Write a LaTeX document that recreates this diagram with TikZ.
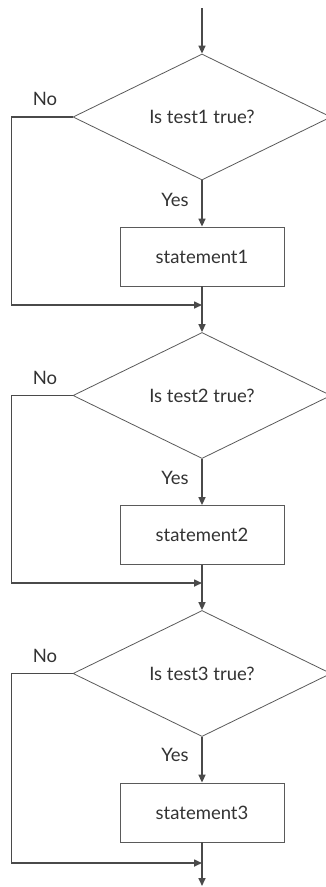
\documentclass[tikz,border=0pt]{standalone}
\usepackage{fontspec}
\setmainfont{Lato}
\usetikzlibrary{shapes.geometric,arrows.meta}
\definecolor{linec}{HTML}{4A4A4A}
\definecolor{shapec}{HTML}{5A5A5A}
\definecolor{textc}{HTML}{333333}
\begin{document}
\begin{tikzpicture}[x=1pt,y=-1pt,
  conn/.style={draw=linec, line width=1.6pt},
  arr/.style={conn,-{Triangle[length=8pt,width=7pt]}},
  decision/.style={diamond, draw=shapec, line width=0.8pt, minimum width=258pt, minimum height=126pt, inner sep=0pt, aspect=2, text=textc, font=\fontsize{18.5}{22}\selectfont},
  stmt/.style={rectangle, draw=shapec, line width=0.8pt, minimum width=164pt, minimum height=59pt, inner sep=0pt, text=textc, font=\fontsize{18.5}{22}\selectfont},
  lbl/.style={inner sep=0pt, text=textc, font=\fontsize{18.5}{22}\selectfont}]
\useasboundingbox (0,0) rectangle (326,887);
\clip (0,0) rectangle (326,887);
\fill[white] (0,0) rectangle (326,887);

\coordinate (start) at (202,8);
\node[decision] (d1) at (202,117) {Is test1 true?};
\node[stmt] (b1) at (202,256.5) {statement1};
\coordinate (m1) at (202,305);
\node[decision] (d2) at (202,395.5) {Is test2 true?};
\node[stmt] (b2) at (202,535) {statement2};
\coordinate (m2) at (202,583);
\node[decision] (d3) at (202,673.5) {Is test3 true?};
\node[stmt] (b3) at (202,812.5) {statement3};
\coordinate (m3) at (202,863);
\coordinate (end) at (202,886);

\node[lbl] (no1) at (45,99) {No};
\node[lbl] (yes1) at (175,200) {Yes};
\node[lbl] (no2) at (45,378) {No};
\node[lbl] (yes2) at (175,478) {Yes};
\node[lbl] (no3) at (45,656) {No};
\node[lbl] (yes3) at (175,755) {Yes};

\draw[arr] (start) -- (d1.north);
\draw[arr] (d1.south) -- (b1.north);
\draw[conn] (b1.south) -- (m1);
\draw[arr] (d1.west) -- ++(-61,0) |- (m1);
\draw[arr] (m1) -- (d2.north);
\draw[arr] (d2.south) -- (b2.north);
\draw[conn] (b2.south) -- (m2);
\draw[arr] (d2.west) -- ++(-61,0) |- (m2);
\draw[arr] (m2) -- (d3.north);
\draw[arr] (d3.south) -- (b3.north);
\draw[conn] (b3.south) -- (m3);
\draw[arr] (d3.west) -- ++(-61,0) |- (m3);
\draw[arr] (m3) -- (end);
\end{tikzpicture}
\end{document}
